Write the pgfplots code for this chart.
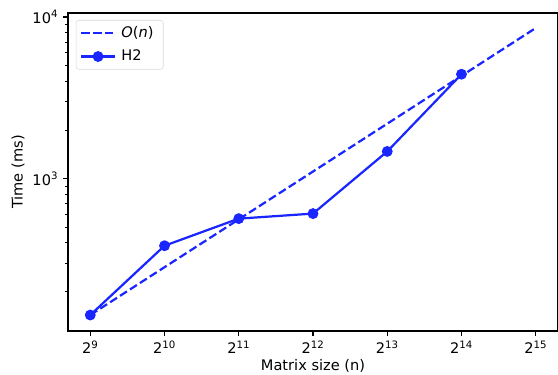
\documentclass[border=0pt]{standalone}
\usepackage{fontspec}
\setmainfont{DejaVu Sans}
\usepackage{pgfplots}
\pgfplotsset{compat=1.18}
\definecolor{lb}{rgb}{0.1,0.15,1}
\begin{document}
\begin{tikzpicture}
\begin{axis}[
  name=ax,
  scale only axis, width=352.8pt, height=229pt,
  xmode=log, ymode=log, log basis x=2, log basis y=10,
  xmin=415.9, xmax=40342, ymin=113.8, ymax=10593,
  xtick={512,1024,2048,4096,8192,16384,32768},
  xticklabels={2\textsuperscript{9},2\textsuperscript{10},2\textsuperscript{11},2\textsuperscript{12},2\textsuperscript{13},2\textsuperscript{14},2\textsuperscript{15}},
  ytick={1000,10000},
  yticklabels={10\textsuperscript{3},10\textsuperscript{4}},
  minor ytick={200,300,400,500,600,700,800,900,2000,3000,4000,5000,6000,7000,8000,9000},
  xminorticks=false,
  tick pos=left, tick align=outside,
  major tick length=3.5pt, minor tick length=2pt,
  every tick/.style={black, line width=0.8pt},
  minor tick style={black, line width=0.6pt},
  axis line style={line width=0.8pt},
  tick label style={font=\fontsize{10.5}{12.5}\selectfont},
  label style={font=\fontsize{10.5}{12.5}\selectfont},
  xlabel={Matrix size (n)}, ylabel={Time (ms)},
  xlabel style={at={(axis description cs:0.5,-0.110)}, anchor=center},
  ylabel style={at={(axis description cs:-0.102,0.5)}, anchor=center},
  legend image code/.code={\draw[mark repeat=2,mark phase=2,#1] plot coordinates {(0pt,0pt) (12pt,0pt) (24pt,0pt)};},
  legend style={draw=black!15, rounded corners=2pt, font=\fontsize{10.5}{12.5}\selectfont, at={(0.016,0.978)}, anchor=north west, inner xsep=3pt, inner ysep=2.5pt, row sep=3.5pt, nodes={inner xsep=4pt, inner ysep=2pt}},
  legend cell align=left,
]
\addplot[lb, line width=1.6pt, dash pattern=on 5.9pt off 2.6pt] coordinates {(512,143) (32768,8550)};
\addlegendentry{\textit{O}(\textit{n})}
\addplot[lb, line width=1.6pt, mark=*, mark size=3.5pt, mark options={solid, line width=0.8pt}] coordinates {
(512,143) (1024,384) (2048,565) (4096,607) (8192,1472) (16384,4425)};
\addlegendentry{H2}
\end{axis}
\pgfresetboundingbox
\path[use as bounding box] ([xshift=-48.96pt,yshift=-30.96pt]ax.south west) rectangle ([yshift=9.36pt]ax.north east);
\end{tikzpicture}
\end{document}
